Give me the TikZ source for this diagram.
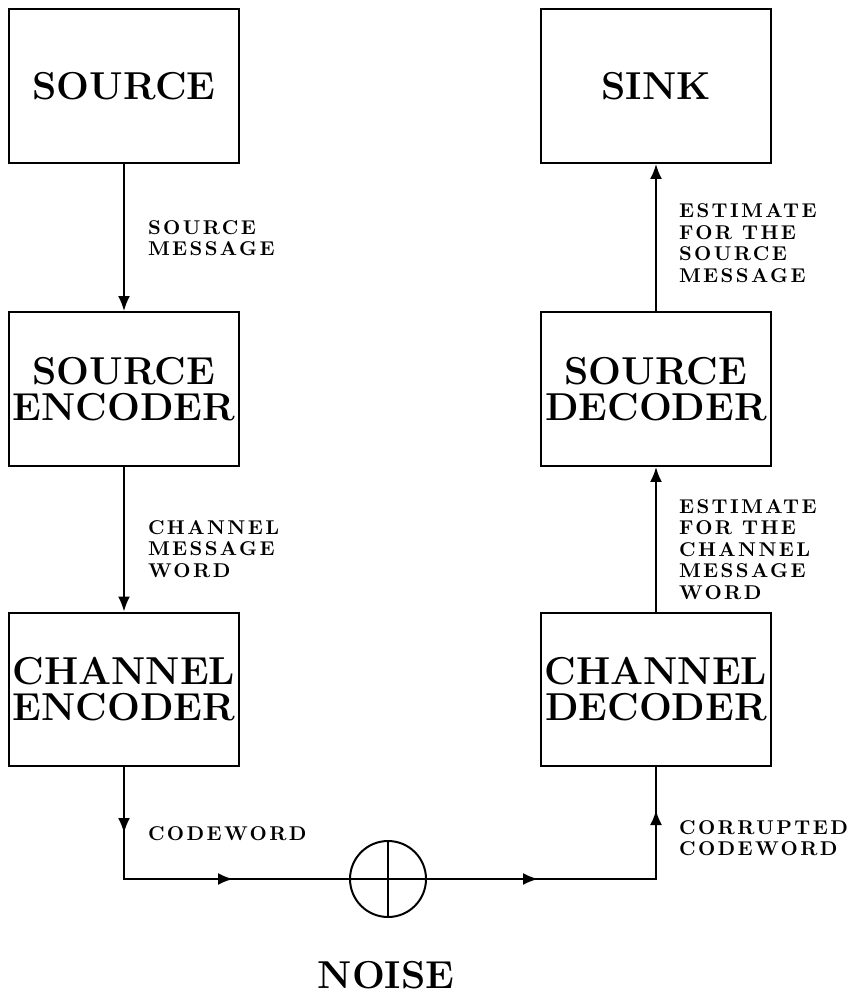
\documentclass[tikz,border=0pt]{standalone}
\usepackage{fontspec}
\newfontfamily\lblfont{lmroman10-regular.otf}[BoldFont=lmroman10-bold.otf, LetterSpace=12]
\usetikzlibrary{arrows.meta}

\begin{document}
\begin{tikzpicture}[line width=1pt, >={Latex[length=7.5pt,width=6pt]},
  block/.style={draw, minimum width=4.05cm, minimum height=2.71cm, align=center,
    inner sep=0pt, font=\fontsize{19.5}{18}\selectfont\bfseries},
  lbl/.style={align=left, anchor=west, inner sep=0pt,
    font=\lblfont\fontsize{10}{10.8}\selectfont\bfseries}]
  \useasboundingbox (0,0) rectangle (15,-17.482);
  % the six blocks
  \node[block] (src) at (2.183,-1.514) {SOURCE};
  \node[block] (senc) at (2.183,-6.849) {SOURCE\\ENCODER};
  \node[block] (cenc) at (2.183,-12.139) {CHANNEL\\ENCODER};
  \node[block] (sink) at (11.549,-1.514) {SINK};
  \node[block] (sdec) at (11.549,-6.849) {SOURCE\\DECODER};
  \node[block] (cdec) at (11.549,-12.139) {CHANNEL\\DECODER};
  % the adder
  \node[draw, circle, minimum size=1.338cm, inner sep=0pt] (add) at (6.831,-15.475) {};
  \draw (add.north) -- (add.south);
  \draw (add.west) -- (add.east);
  \node[font=\fontsize{19.5}{18}\selectfont\bfseries] (noise) at (6.796,-17.17) {NOISE};
  % arrowheads half way along the channel path
  \coordinate (m1) at (2.183,-14.666);
  \coordinate (c1) at (2.183,-15.475);
  \coordinate (m2) at (4.102,-15.475);
  \coordinate (m3) at (9.472,-15.475);
  \coordinate (c2) at (11.549,-15.475);
  \coordinate (m4) at (11.549,-14.261);
  \draw[->] (src) -- (senc);
  \draw[->] (senc) -- (cenc);
  \draw (cenc) |- (add);
  \draw (add) -| (cdec);
  \draw[->] (cenc) -- (m1);
  \draw[->] (c1) -- (m2);
  \draw[->] (add) -- (m3);
  \draw[->] (c2) -- (m4);
  \draw[->] (cdec) -- (sdec);
  \draw[->] (sdec) -- (sink);
  % labels
  \node[lbl] (srcmsg) at (2.588,-4.190) {SOURCE\\MESSAGE};
  \node[lbl] (chmsg) at (2.588,-9.666) {CHANNEL\\MESSAGE\\WORD};
  \node[lbl] (cw) at (2.588,-14.683) {CODEWORD};
  \node[lbl] (estsrc) at (11.937,-4.278) {ESTIMATE\\FOR THE\\SOURCE\\MESSAGE};
  \node[lbl] (estch) at (11.937,-9.675) {ESTIMATE\\FOR THE\\CHANNEL\\MESSAGE\\WORD};
  \node[lbl] (corrcw) at (11.937,-14.754) {CORRUPTED\\CODEWORD};
\end{tikzpicture}
\end{document}
